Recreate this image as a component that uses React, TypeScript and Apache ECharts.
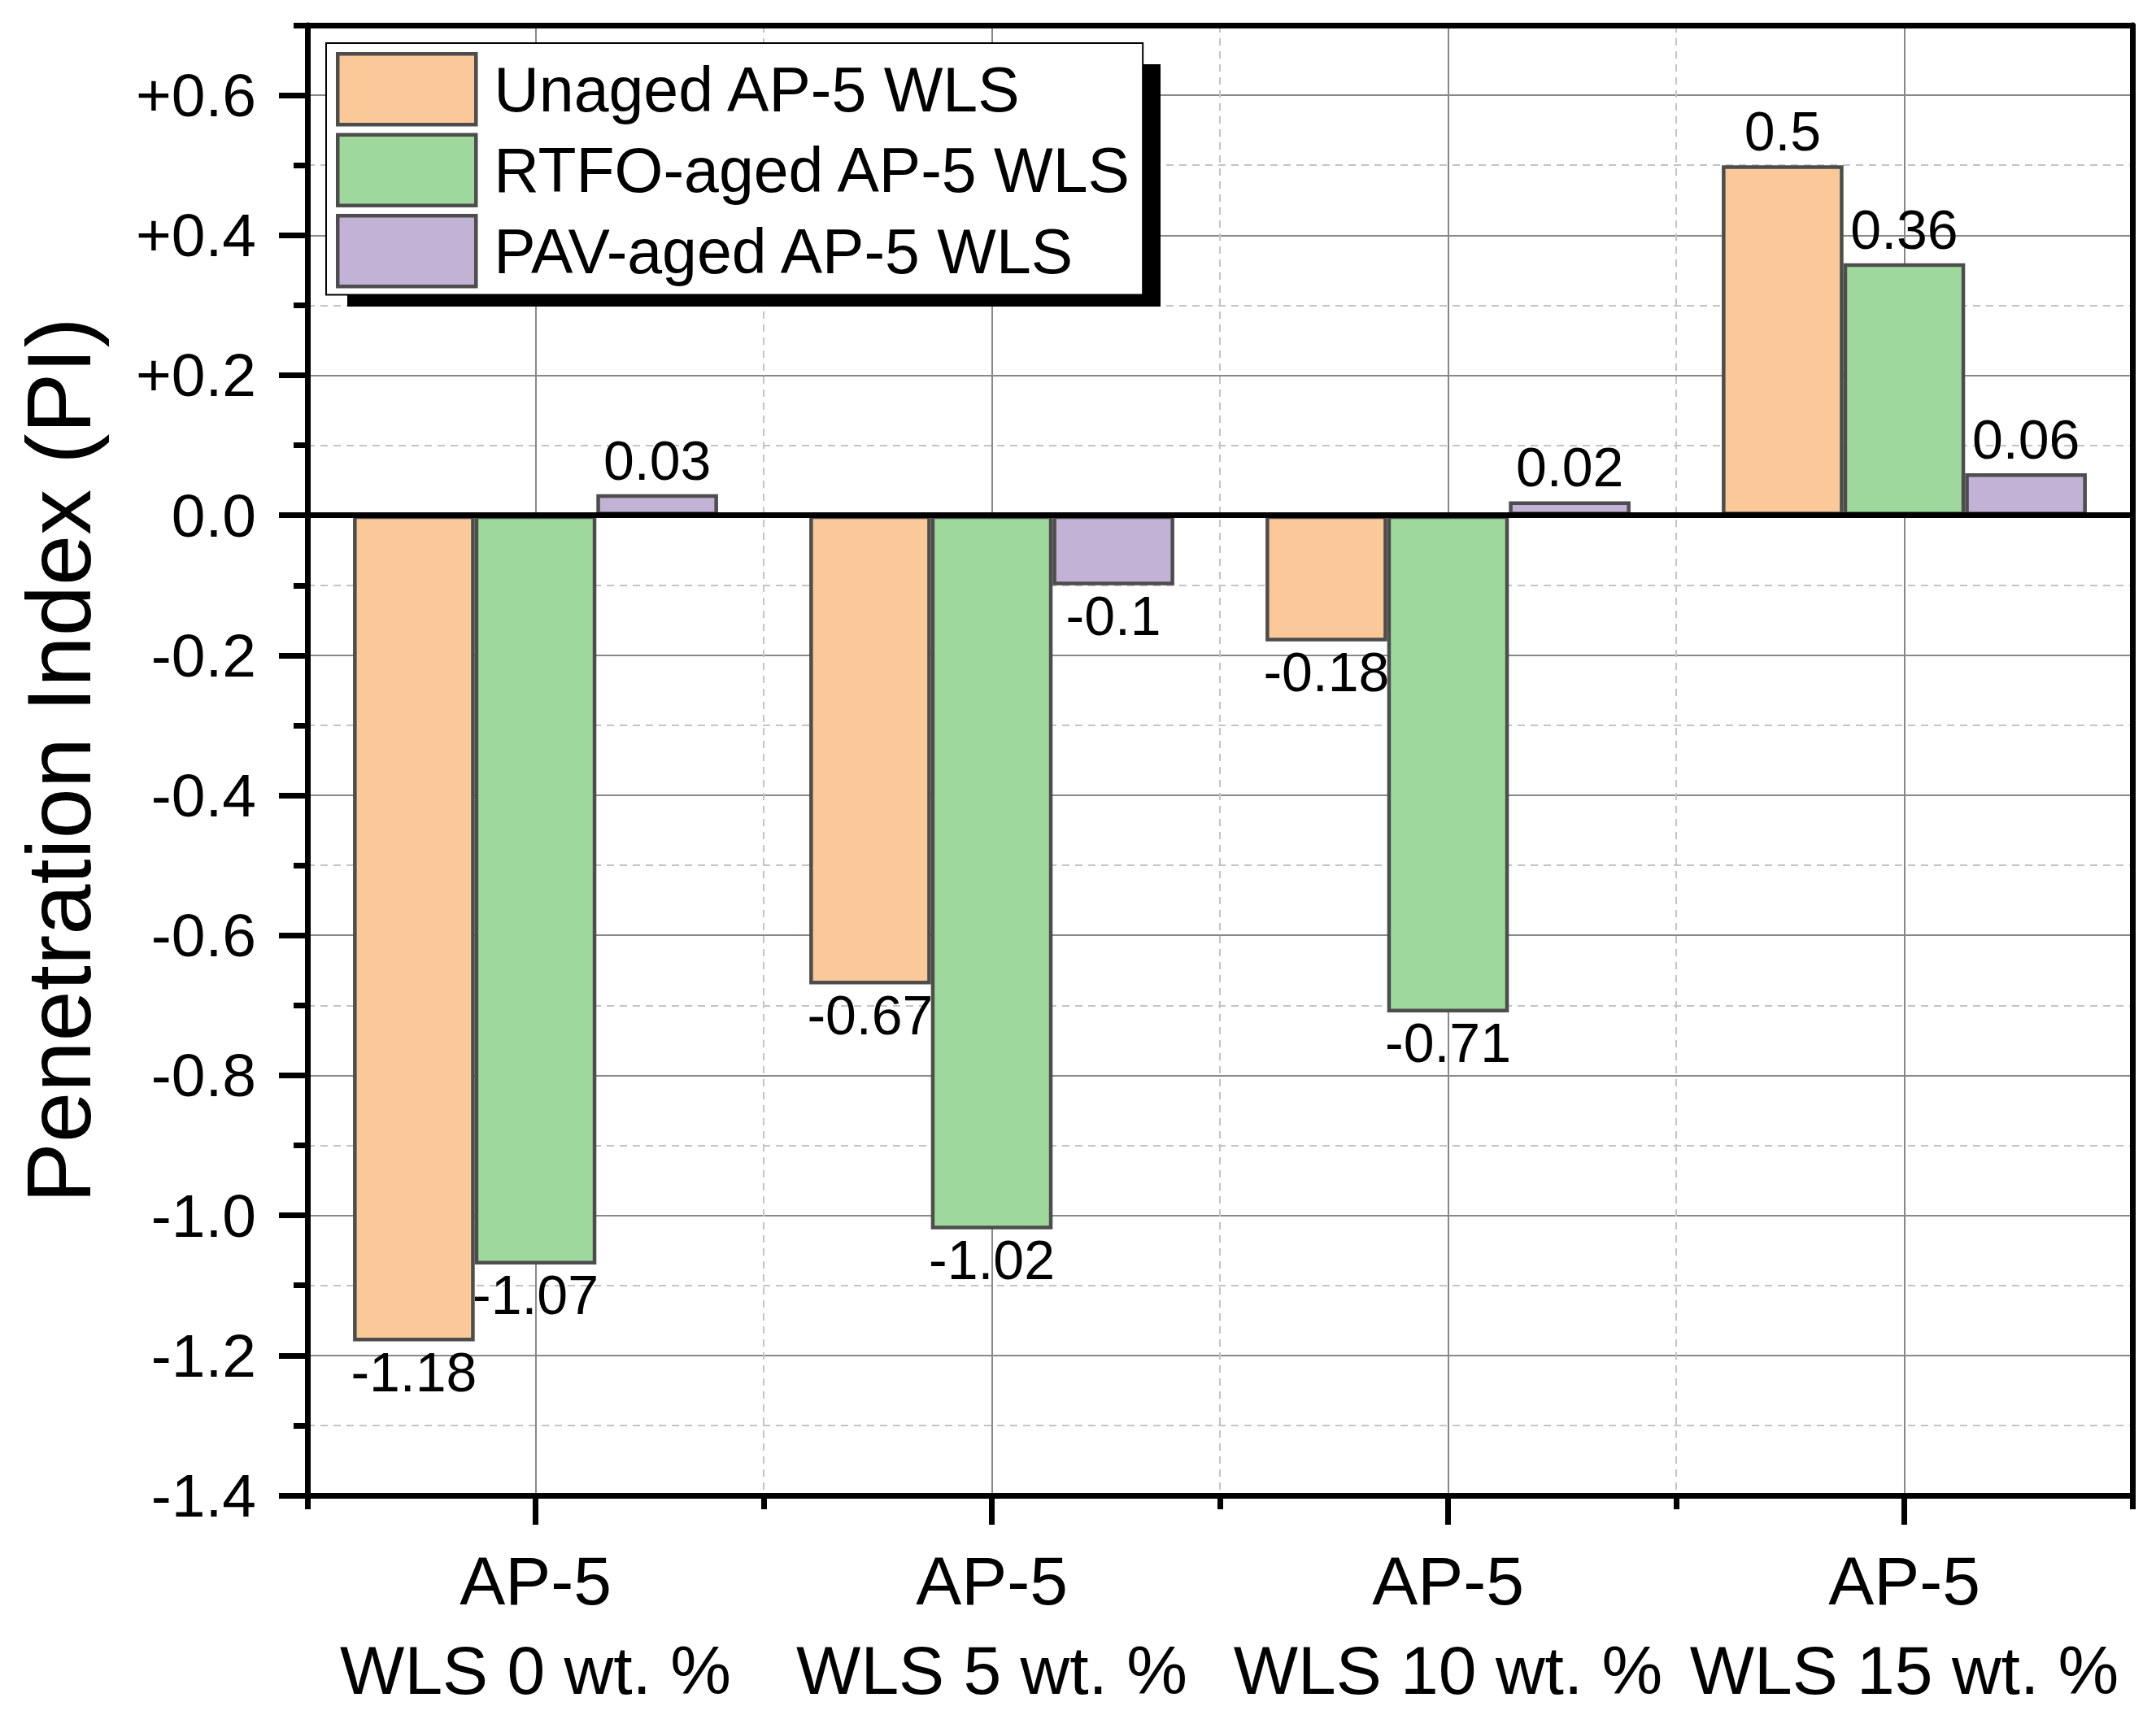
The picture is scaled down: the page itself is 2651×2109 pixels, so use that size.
import React, { useEffect, useRef } from 'react';
import * as echarts from 'echarts';

const categories = ['AP-5\nWLS 0 wt. %', 'AP-5\nWLS 5 wt. %', 'AP-5\nWLS 10 wt. %', 'AP-5\nWLS 15 wt. %'];
const seriesNames = ['Unaged AP-5 WLS', 'RTFO-aged AP-5 WLS', 'PAV-aged AP-5 WLS'];
const unaged = [-1.18, -0.67, -0.18, 0.5];
const rtfo = [-1.07, -1.02, -0.71, 0.36];
const pav = [0.03, -0.1, 0.02, 0.06];
const yTicks = [-1.4, -1.2, -1.0, -0.8, -0.6, -0.4, -0.2, 0, 0.2, 0.4, 0.6];
const yMin = -1.4;
const yMax = 0.7;
const colors = ['#FBC999', '#9FD89D', '#C1B2D6'];
const yTitle = 'Penetration Index (PI)';

const FONT = "'Liberation Sans', Arial, sans-serif";
const black = { color: '#000', width: 7 };

function fmtY(v: number): string {
  if (Math.abs(v) < 1e-9) return '0.0';
  if (v > yMax - 1e-9) return '';
  return (v > 0 ? '+' : '') + v.toFixed(1);
}

export default function App() {
  const ref = useRef<HTMLDivElement>(null);
  useEffect(() => {
    const chart = echarts.init(ref.current!, null, { renderer: 'svg' });
    const seriesData = [unaged, rtfo, pav];
    const option: any = {
      animation: false,
      backgroundColor: '#fff',
      textStyle: { fontFamily: FONT },
      grid: { left: 378, right: 29, top: 31, bottom: 263 },
      legend: {
        show: true,
        orient: 'vertical',
        left: 401,
        top: 53,
        itemWidth: 170,
        itemHeight: 87,
        itemGap: 8,
        padding: [11, 12, 8, 12],
        backgroundColor: '#fff',
        borderColor: '#000',
        borderWidth: 2,
        icon: 'rect',
        selectedMode: false,
        z: 4,
        textStyle: { fontSize: 77, color: '#000', fontFamily: FONT, padding: [0, 0, 0, 17] },
        itemStyle: { borderColor: '#4d4d4d', borderWidth: 4.5 },
        data: seriesNames,
      },
      graphic: [
        {
          type: 'rect',
          z: 3,
          silent: true,
          shape: { x: 427, y: 79, width: 1000, height: 298 },
          style: { fill: '#000' },
        },
      ],
      xAxis: [
        {
          type: 'category',
          data: categories,
          position: 'bottom',
          axisLine: { show: true, onZero: false, lineStyle: black },
          axisTick: { show: false },
          axisLabel: { interval: 0, fontSize: 84, lineHeight: 110, color: '#000', margin: 50, fontFamily: FONT },
          splitLine: { show: false },
        },
        {
          type: 'value',
          min: 0,
          max: categories.length,
          interval: 1,
          position: 'bottom',
          axisLine: { show: false, onZero: false },
          axisTick: { show: true, length: 17, lineStyle: black },
          minorTick: { show: true, splitNumber: 2, length: 36, lineStyle: black },
          axisLabel: { show: false },
          splitLine: { show: true, showMinLine: false, showMaxLine: false, lineStyle: { color: '#c4c4c4', width: 2, type: [9, 7] } },
          minorSplitLine: { show: true, lineStyle: { color: '#888', width: 2 } },
        },
        {
          type: 'value',
          min: 0,
          max: categories.length,
          position: 'top',
          axisLine: { show: true, onZero: false, lineStyle: black },
          axisTick: { show: false },
          axisLabel: { show: false },
          splitLine: { show: false },
        },
      ],
      yAxis: [
        {
          type: 'value',
          min: yMin,
          max: yMax,
          interval: 0.2,
          position: 'left',
          name: yTitle,
          nameLocation: 'middle',
          nameGap: 250,
          nameTextStyle: { fontSize: 112, color: '#000', fontFamily: FONT },
          axisLine: { show: true, onZero: false, lineStyle: black },
          axisTick: { show: true, length: 35, customValues: yTicks, lineStyle: black },
          minorTick: { show: true, splitNumber: 2, length: 17, lineStyle: black },
          axisLabel: { customValues: yTicks, formatter: fmtY, fontSize: 75, margin: 63, color: '#000', fontFamily: FONT },
          splitLine: { show: true, showMinLine: false, lineStyle: { color: '#888', width: 2 } },
          minorSplitLine: { show: true, lineStyle: { color: '#c4c4c4', width: 2, type: [9, 7] } },
        },
        {
          type: 'value',
          min: yMin,
          max: yMax,
          position: 'left',
          axisLine: { show: false, onZero: false },
          axisTick: { show: true, length: 17, customValues: [yMax], lineStyle: black },
          axisLabel: { show: false },
          splitLine: { show: false },
        },
        {
          type: 'value',
          min: yMin,
          max: yMax,
          position: 'right',
          axisLine: { show: true, onZero: false, lineStyle: black },
          axisTick: { show: false },
          axisLabel: { show: false },
          splitLine: { show: false },
        },
      ],
      series: seriesData.map((vals, i) => ({
        type: 'bar',
        name: seriesNames[i],
        xAxisIndex: 0,
        yAxisIndex: 0,
        barGap: '0%',
        barCategoryGap: '20%',
        itemStyle: { color: colors[i], borderColor: '#4d4d4d', borderWidth: 4.5 },
        label: { show: true, fontSize: 68, color: '#000', fontFamily: FONT },
        data: vals.map((v) => ({
          value: v,
          label: { position: v < 0 ? 'bottom' : 'top', distance: v < 0 ? 3 : 8 },
        })),
        markLine:
          i === 0
            ? {
                silent: true,
                z: 5,
                symbol: ['none', 'none'],
                label: { show: false },
                lineStyle: { color: '#000', width: 7, type: 'solid' },
                emphasis: { disabled: true },
                data: [{ yAxis: 0 }],
              }
            : undefined,
      })),
    };
    chart.setOption(option);
    return () => chart.dispose();
  }, []);
  return (
    <div
      ref={ref}
      style={{ position: 'fixed', left: 0, top: 0, width: 2651, height: 2109, background: '#fff' }}
    />
  );
}
